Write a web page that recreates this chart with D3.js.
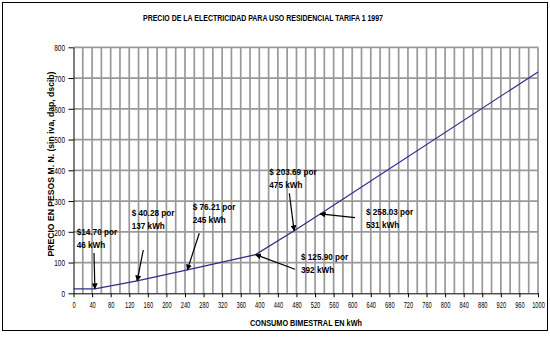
<!DOCTYPE html>
<html>
<head>
<meta charset="utf-8">
<script src="https://cdn.jsdelivr.net/npm/d3@7"></script>
<style>
  html, body { margin: 0; padding: 0; background: #fff; }
  svg { display: block; font-family: "Liberation Sans", Arial, sans-serif; }
</style>
</head>
<body>
<svg id="chart" width="550" height="357"></svg>
<script>
// ---- data ----
const consumo = [0, 46, 137, 245, 392, 475, 531, 1000];           // kWh
const precio  = [14.70, 14.70, 40.28, 76.21, 125.90, 203.69, 258.03, 720]; // pesos
const xTicks = d3.range(0, 1001, 40);
const yTicks = d3.range(0, 801, 100);
const xGrid = d3.range(20, 1001, 20);
const annKwh   = [46, 137, 245, 392, 475, 531];
const annPrice = [14.70, 40.28, 76.21, 125.90, 203.69, 258.03];
const annLine1 = ["$14.70 por", "$ 40.28 por", "$ 76.21 por", "$ 125.90 por", "$ 203.69 por", "$ 258.03 por"];
const annLine2 = ["46 kWh", "137 kWh", "245 kWh", "392 kWh", "475 kWh", "531 kWh"];
const titleText = "PRECIO DE LA ELECTRICIDAD PARA USO RESIDENCIAL TARIFA 1 1997";
const xTitle = "CONSUMO BIMESTRAL EN kWh";
const yTitle = "PRECIO EN PESOS M. N. (sin iva, dap, dscib)";

// ---- layout (pixels) ----
const annLayout = [
  {tx: 76.7, ty: 234.5, ax: 94.0, ay: 253},
  {tx: 131.7, ty: 216.0, ax: 143.3, ay: 250},
  {tx: 192.7, ty: 209.5, ax: 199.3, ay: 233.3},
  {tx: 301.0, ty: 259.5, ax: 295.0, ay: 269.3},
  {tx: 269.3, ty: 175.0, ax: 289.3, ay: 193.3},
  {tx: 366.0, ty: 215.0, ax: 355.0, ay: 217.7}
];

const svg = d3.select("#chart");
const x = d3.scaleLinear().domain([0, 1000]).range([73.5, 538]);
const y = d3.scaleLinear().domain([0, 800]).range([293.3, 47.3]);

// outer border
svg.append("rect").attr("x", 2.5).attr("y", 2.5).attr("width", 545).attr("height", 328)
  .attr("fill", "#fff").attr("stroke", "#000").attr("stroke-width", 1);

// title
svg.append("text").attr("x", 263).attr("y", 20.5).attr("text-anchor", "middle")
  .attr("font-size", 9).attr("font-weight", "bold")
  .attr("textLength", 240).attr("lengthAdjust", "spacingAndGlyphs")
  .text(titleText);

// grid
const grid = svg.append("g");
grid.selectAll("line.v").data(xGrid).join("line").attr("class", "v")
  .attr("x1", d => x(d)).attr("x2", d => x(d))
  .attr("y1", y(800)).attr("y2", y(0))
  .attr("stroke", "#999").attr("stroke-width", 1.7);
grid.selectAll("line.h").data(yTicks.filter(d => d > 0)).join("line").attr("class", "h")
  .attr("x1", x(0)).attr("x2", x(1000))
  .attr("y1", d => y(d)).attr("y2", d => y(d))
  .attr("stroke", "#999").attr("stroke-width", 1.7);

// axes
const xAxis = svg.append("g").attr("transform", `translate(0,${y(0)})`)
  .call(d3.axisBottom(x).tickValues(xTicks).tickFormat(d3.format("d")).tickSize(4).tickSizeOuter(0));
xAxis.select(".domain").attr("stroke", "#000");
xAxis.selectAll(".tick line").attr("stroke", "#000");
xAxis.selectAll(".tick text")
  .attr("y", 15).attr("dy", 0)
  .attr("font-size", 9.5).attr("font-family", "Liberation Sans, Arial, sans-serif")
  .attr("fill", "#000")
  .attr("transform", "scale(0.6,1)");

const yAxis = svg.append("g").attr("transform", `translate(${x(0)},0)`)
  .call(d3.axisLeft(y).tickValues(yTicks).tickFormat(d3.format("d")).tickSize(5).tickSizeOuter(0));
yAxis.select(".domain").attr("stroke", "#000");
yAxis.selectAll(".tick line").attr("stroke", "#000");
yAxis.selectAll(".tick text")
  .attr("x", -8.5 / 0.68).attr("dy", "0.35em")
  .attr("font-size", 9.5).attr("font-family", "Liberation Sans, Arial, sans-serif")
  .attr("fill", "#000")
  .attr("transform", "scale(0.68,1)");

// axis titles
svg.append("text").attr("x", 306).attr("y", 325.5).attr("text-anchor", "middle")
  .attr("font-size", 9.2).attr("font-weight", "bold")
  .attr("textLength", 112).attr("lengthAdjust", "spacingAndGlyphs")
  .text(xTitle);
svg.append("text").attr("transform", "translate(54,164) rotate(-90)")
  .attr("text-anchor", "middle")
  .attr("font-size", 9.8).attr("font-weight", "bold")
  .attr("textLength", 185).attr("lengthAdjust", "spacingAndGlyphs")
  .text(yTitle);

// price line
const pts = consumo.map((c, i) => [c, precio[i]]);
svg.append("path").datum(pts)
  .attr("fill", "none").attr("stroke", "#2e2e8c").attr("stroke-width", 1.2)
  .attr("d", d3.line().x(d => x(d[0])).y(d => y(d[1])));

// arrow marker
svg.append("defs").append("marker")
  .attr("id", "arr").attr("viewBox", "0 0 10 10").attr("refX", 9).attr("refY", 5)
  .attr("markerWidth", 6).attr("markerHeight", 6).attr("markerUnits", "userSpaceOnUse")
  .attr("orient", "auto")
  .append("path").attr("d", "M0,0 L10,5 L0,10 z").attr("fill", "#000");

// annotations
const ann = svg.append("g");
annKwh.forEach((k, i) => {
  const L = annLayout[i];
  ann.append("line")
    .attr("x1", L.ax).attr("y1", L.ay)
    .attr("x2", x(k)).attr("y2", y(annPrice[i]))
    .attr("stroke", "#000").attr("stroke-width", 1.2)
    .attr("marker-end", "url(#arr)");
  [annLine1[i], annLine2[i]].forEach((t, j) => {
    ann.append("text")
      .attr("transform", `translate(${L.tx},${L.ty + j * 13}) scale(0.88,1)`)
      .attr("font-size", 9.3).attr("font-weight", "bold").attr("fill", "#000")
      .text(t);
  });
});
</script>
</body>
</html>
